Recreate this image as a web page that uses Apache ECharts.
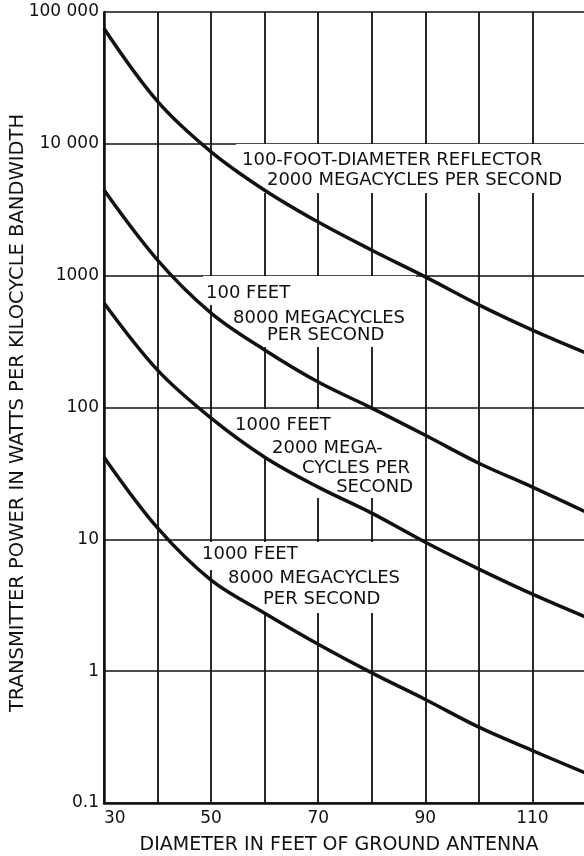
<!DOCTYPE html>
<html>
<head>
<meta charset="utf-8">
<script src="https://cdn.jsdelivr.net/npm/echarts@6/dist/echarts.min.js"></script>
<style>
  html, body { margin: 0; padding: 0; background: #fff; }
  #chart { width: 584px; height: 856px; }
</style>
</head>
<body>
<div id="chart"></div>
<script>
// ---- data ----
const diameters = [30, 40, 50, 60, 70, 80, 90, 100, 110, 120];
const reflector100ft2000 = [75000, 21000, 8700, 4450, 2550, 1560, 980, 600, 386, 259];
const feet100mc8000     = [4460, 1313, 520, 273, 156, 99, 61.6, 37.8, 24.9, 16.1];
const feet1000mc2000    = [620, 192, 83, 42, 24.9, 15.8, 9.5, 5.95, 3.84, 2.57];
const feet1000mc8000    = [42, 12.2, 4.9, 2.75, 1.6, 0.97, 0.61, 0.376, 0.25, 0.168];

const yTickValues = [0.1, 1, 10, 100, 1000, 10000, 100000];
const yTickLabels = ['0.1', '1', '10', '100', '1000', '10 000', '100 000'];
const xTickLabels = [30, 50, 70, 90, 110];

const xTitle = 'DIAMETER IN FEET OF GROUND ANTENNA';
const yTitle = 'TRANSMITTER POWER IN WATTS PER KILOCYCLE BANDWIDTH';

const FONT = 'DejaVu Sans';
const INK = '#111';

function pairs(ys) { return diameters.map((x, i) => [x, ys[i]]); }

function curve(name, ys) {
  return {
    name: name, type: 'line', data: pairs(ys), smooth: 0.35,
    symbol: 'none', lineStyle: { color: INK, width: 3.5 }, z: 5,
    silent: true
  };
}

function note(text, x, y, align) {
  return {
    type: 'text', x: x, y: y, z: 10,
    style: { text: text, fill: INK, font: '18px "' + FONT + '"',
             align: align || 'left', verticalAlign: 'middle' }
  };
}

// white patches behind the lettering (gridlines interrupted, curves drawn over)
function blank(x, y, w, h) {
  return { type: 'rect', z: 3, silent: true,
           shape: { x: x, y: y, width: w, height: h }, style: { fill: '#fff' } };
}

const chart = echarts.init(document.getElementById('chart'), null, { renderer: 'canvas' });
chart.setOption({
  animation: false,
  backgroundColor: '#fff',
  grid: { left: 104, right: -2, top: 12, bottom: 53, containLabel: false, outerBoundsMode: 'none' },
  xAxis: {
    type: 'value', min: 30, max: 120, interval: 10,
    name: xTitle, nameLocation: 'middle', nameGap: 33, nameMoveOverlap: false,
    nameTextStyle: { fontFamily: FONT, fontSize: 19, color: INK, padding: [0, 12, 0, 0] },
    axisLine: { show: true, onZero: false, lineStyle: { color: INK, width: 2.5 } },
    axisTick: { show: false },
    axisLabel: {
      fontFamily: FONT, fontSize: 17, color: INK, margin: 7, alignMinLabel: 'left',
      formatter: v => xTickLabels.indexOf(v) >= 0 ? String(v) : ''
    },
    splitLine: { show: true, lineStyle: { color: INK, width: 1.8 } }
  },
  yAxis: {
    type: 'log', logBase: 10, min: 0.1, max: 100000, splitNumber: 6,
    name: yTitle, nameLocation: 'middle', nameGap: 76, nameMoveOverlap: false,
    nameTextStyle: { fontFamily: FONT, fontSize: 19.5, color: INK, padding: [0, 11, 0, 0] },
    axisLine: { show: true, lineStyle: { color: INK, width: 2.5 } },
    axisTick: { show: false },
    minorTick: { show: false },
    axisLabel: {
      fontFamily: FONT, fontSize: 17, color: INK, margin: 5,
      showMinLabel: true, showMaxLabel: true,
      formatter: v => {
        const i = Math.round(Math.log10(v)) + 1;
        return yTickLabels[i] !== undefined ? yTickLabels[i] : '';
      }
    },
    splitLine: { show: true, lineStyle: { color: INK, width: 1.6 } }
  },
  series: [
    curve('100-foot reflector, 2000 Mc', reflector100ft2000),
    curve('100 feet, 8000 Mc', feet100mc8000),
    curve('1000 feet, 2000 Mc', feet1000mc2000),
    curve('1000 feet, 8000 Mc', feet1000mc8000)
  ],
  graphic: [
    blank(236, 144, 350, 49),
    blank(203, 276, 95, 29), blank(228, 276, 188, 71),
    blank(231, 409, 95, 27), blank(262, 409, 156, 49), blank(298, 409, 120, 89),
    blank(198, 542, 100, 28), blank(224, 542, 192, 71),
    note('100-FOOT-DIAMETER REFLECTOR', 242, 160),
    note('2000 MEGACYCLES PER SECOND', 562, 180, 'right'),
    note('100 FEET', 206, 293),
    note('8000 MEGACYCLES', 233, 318),
    note('PER SECOND', 267, 335),
    note('1000 FEET', 235, 425),
    note('2000 MEGA-', 272, 448),
    note('CYCLES PER', 302, 468),
    note('SECOND', 413, 487, 'right'),
    note('1000 FEET', 202, 554),
    note('8000 MEGACYCLES', 228, 578),
    note('PER SECOND', 263, 599)
  ]
});
</script>
</body>
</html>
